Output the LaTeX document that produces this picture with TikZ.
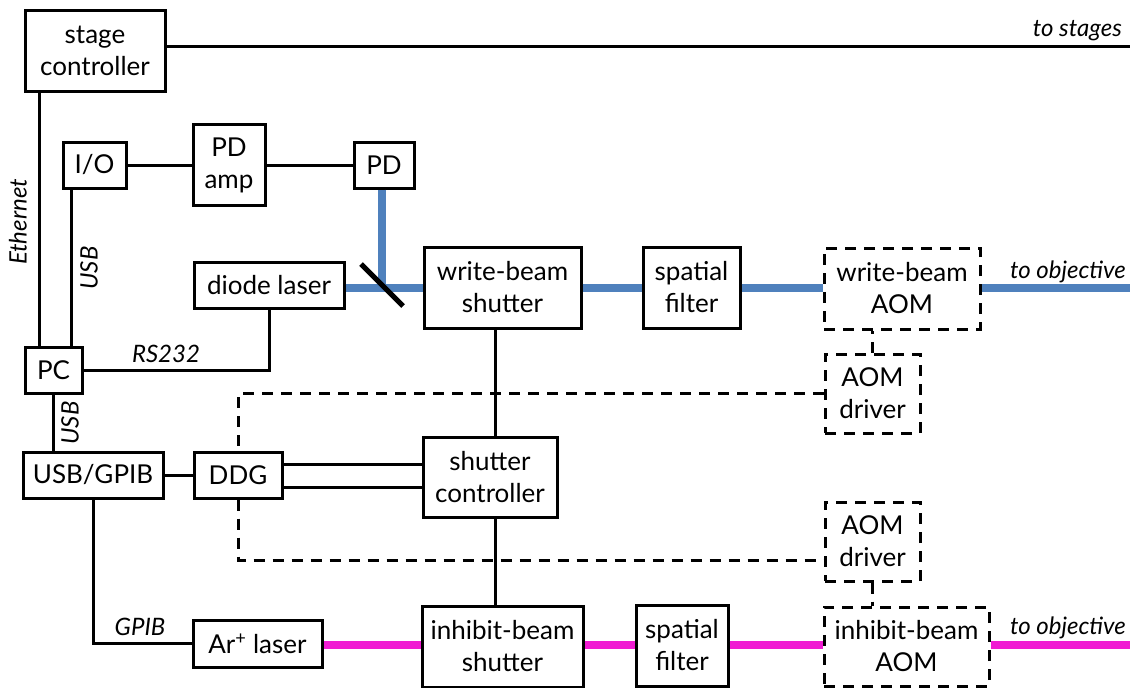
\documentclass[tikz,border=0pt]{standalone}
\usepackage{fontspec}
\setmainfont{Lato}
\begin{document}
\begin{tikzpicture}[x=1pt,y=-1pt,
  every node/.style={font=\fontsize{26}{32}\selectfont, inner sep=0pt, align=center},
  box/.style={draw, line width=3pt, rectangle},
  dbox/.style={box, dash pattern=on 11pt off 8pt},
  wire/.style={line width=3pt},
  dwire/.style={line width=3pt, dash pattern=on 11pt off 8pt},
  lbl/.style={font=\fontsize{24}{28}\selectfont\itshape},
  bluebeam/.style={line width=7.5pt, color=beamblue},
  pinkbeam/.style={line width=7.5pt, color=beampink},
  mirror/.style={line width=5pt}
]
\definecolor{beamblue}{RGB}{79,129,189}
\definecolor{beampink}{RGB}{240,28,210}
\useasboundingbox (0,0) rectangle (1130,688);

% boxes
\node[box, minimum width=140pt, minimum height=81pt] (stage) at (95,50.5) {stage\\controller};
\node[box, minimum width=63pt, minimum height=46pt] (io) at (94.5,165) {I/O};
\node[box, minimum width=72pt, minimum height=81pt] (pdamp) at (229,165) {PD\\amp};
\node[box, minimum width=60pt, minimum height=46pt] (pd) at (384,165) {PD};
\node[box, minimum width=150pt, minimum height=46pt] (diode) at (269,285) {diode laser};
\node[box, minimum width=157pt, minimum height=81pt] (wbs) at (502.5,287.5) {write-beam\\shutter};
\node[box, minimum width=97pt, minimum height=81pt] (sf1) at (691.5,287.5) {spatial\\filter};
\node[dbox, minimum width=156pt, minimum height=81pt] (waom) at (902,288.5) {write-beam\\AOM};
\node[dbox, minimum width=95pt, minimum height=79pt] (drv1) at (872.5,393.5) {AOM\\driver};
\node[box, minimum width=57pt, minimum height=46pt] (pc) at (53.5,370) {PC};
\node[box, minimum width=140pt, minimum height=46pt] (usbgpib) at (93,475) {USB/GPIB};
\node[box, minimum width=88pt, minimum height=46pt] (ddg) at (238,475) {DDG};
\node[box, minimum width=134pt, minimum height=80pt] (shc) at (490,477) {shutter\\controller};
\node[dbox, minimum width=95pt, minimum height=79pt] (drv2) at (872.5,541.5) {AOM\\driver};
\node[box, minimum width=129pt, minimum height=47pt] (ar) at (257.5,643.5) {Ar\textsuperscript{+} laser};
\node[box, minimum width=161pt, minimum height=81pt] (ish) at (502.5,646.5) {inhibit-beam\\shutter};
\node[box, minimum width=92pt, minimum height=81pt] (sf2) at (682,645.5) {spatial\\filter};
\node[dbox, minimum width=165pt, minimum height=79pt] (iaom) at (906.5,646.5) {inhibit-beam\\AOM};

% reference points for wires and beams
\coordinate (toS) at (1130,46);
\coordinate (ethx) at (39,0);
\coordinate (usbx) at (71,0);
\coordinate (vx) at (495,0);
\coordinate (d1) at (0,464);
\coordinate (d2) at (0,487);
\coordinate (dl) at (0,560);
\coordinate (by) at (0,288);
\coordinate (bx) at (382,0);
\coordinate (wout) at (1130,288);
\coordinate (iout) at (1130,645);
\coordinate (py) at (0,645);

% electrical wires
\draw[wire] (toS -| stage.east) -- (toS);
\draw[wire] (stage.south -| ethx) -- (pc.north -| ethx);
\draw[wire] (io.south -| usbx) -- (pc.north -| usbx);
\draw[wire] (io.east) -- (pdamp.west);
\draw[wire] (pdamp.east) -- (pd.west);
\draw[wire] (pc.east) -| (diode.south);
\draw[wire] (pc.south) -- (usbgpib.north -| pc.south);
\draw[wire] (usbgpib.east) -- (ddg.west);
\draw[wire] (ddg.east |- d1) -- (shc.west |- d1);
\draw[wire] (ddg.east |- d2) -- (shc.west |- d2);
\draw[wire] (usbgpib.south) |- (ar.west);
\draw[wire] (wbs.south -| vx) -- (shc.north -| vx);
\draw[wire] (shc.south -| vx) -- (ish.north -| vx);

% AOM driver links
\draw[dwire] (drv1.west) -| (ddg.north);
\draw[dwire] (ddg.south) |- (drv2.west |- dl);
\draw[dwire] (drv1.north) -- (waom.south -| drv1.north);
\draw[dwire] (drv2.south) -- (iaom.north -| drv2.south);

% write beam
\draw[bluebeam] (diode.east |- by) -- (wbs.west |- by);
\draw[bluebeam] (pd.south -| bx) -- (bx |- by);
\draw[bluebeam] (wbs.east |- by) -- (sf1.west |- by);
\draw[bluebeam] (sf1.east |- by) -- (waom.west |- by);
\draw[bluebeam] (waom.east |- by) -- (wout);
\draw[mirror] (361,264) -- (403,306);

% inhibit beam
\draw[pinkbeam] (ar.east |- py) -- (ish.west |- py);
\draw[pinkbeam] (ish.east |- py) -- (sf2.west |- py);
\draw[pinkbeam] (sf2.east |- py) -- (iaom.west |- py);
\draw[pinkbeam] (iaom.east |- py) -- (iout);

% labels
\node[lbl, anchor=base east] (lstages) at (1122,36) {to stages};
\node[lbl, anchor=base east] (lobj1) at (1126,278) {to objective};
\node[lbl, anchor=base east] (lobj2) at (1126,634) {to objective};
\node[lbl, anchor=base] (lrs) at (166,362) {RS232};
\node[lbl, anchor=base] (lgpib) at (140,635) {GPIB};
\node[lbl, rotate=90] (leth) at (18,222) {Ethernet};
\node[lbl, rotate=90] (lusb1) at (89,268) {USB};
\node[lbl, rotate=90] (lusb2) at (70,423) {USB};
\end{tikzpicture}
\end{document}
